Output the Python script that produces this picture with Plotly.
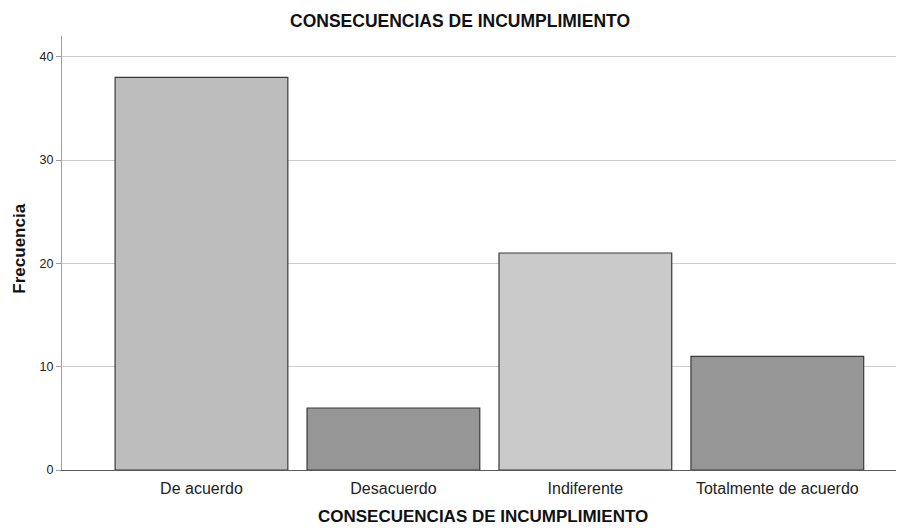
import plotly.graph_objects as go

categories = ["De acuerdo", "Desacuerdo", "Indiferente", "Totalmente de acuerdo"]
frecuencia = [38, 6, 21, 11]
bar_colors = ["#BDBDBD", "#969696", "#CACACA", "#969696"]
y_ticks = [0, 10, 20, 30, 40]

font_family = "Liberation Sans, Arial, sans-serif"
title_text = "<b>CONSECUENCIAS DE INCUMPLIMIENTO</b>"

fig = go.Figure()
fig.add_trace(go.Bar(
    x=list(range(len(categories))),
    y=frecuencia,
    marker=dict(color=bar_colors, line=dict(color="#3a3a3a", width=1.2)),
    width=0.9,
    hoverinfo="skip",
))

# page body has an 8px margin, so the figure is 896x520 placed at (8, 8)
fig.update_layout(
    width=896, height=520,
    margin=dict(l=54, r=0, t=28, b=58),
    paper_bgcolor="white", plot_bgcolor="white",
    showlegend=False,
    font=dict(family=font_family, color="#222"),
    title=dict(text=title_text, x=0.5045, xanchor="center",
               y=0.975, yanchor="middle", font=dict(size=17.5, color="#111")),
    xaxis=dict(
        tickmode="array", tickvals=list(range(len(categories))), ticktext=categories,
        range=[-0.7266, 3.66], showgrid=False, zeroline=False,
        showline=True, linecolor="#5a5a5a", linewidth=1.2,
        ticks="", tickfont=dict(size=16, color="#222"), ticklabelstandoff=4,
    ),
    yaxis=dict(
        range=[0, 42], tickvals=y_ticks, showgrid=True, gridcolor="#cccccc", gridwidth=1.2,
        zeroline=False, showline=True, linecolor="#a0a0a0", linewidth=1.2,
        ticks="outside", ticklen=5, tickcolor="#a0a0a0",
        tickfont=dict(size=12.5, color="#222"),
    ),
    annotations=[
        dict(text=title_text, xref="paper", yref="paper", x=0.5, y=-0.107,
             xanchor="center", yanchor="middle", showarrow=False, borderpad=0,
             font=dict(size=17, color="#111")),
        dict(text="<b>Frecuencia</b>", xref="paper", yref="paper", x=-0.0499, y=0.51,
             xanchor="center", yanchor="middle", textangle=-90, showarrow=False,
             font=dict(size=17, color="#111")),
    ],
)

fig.write_html("out.html")
